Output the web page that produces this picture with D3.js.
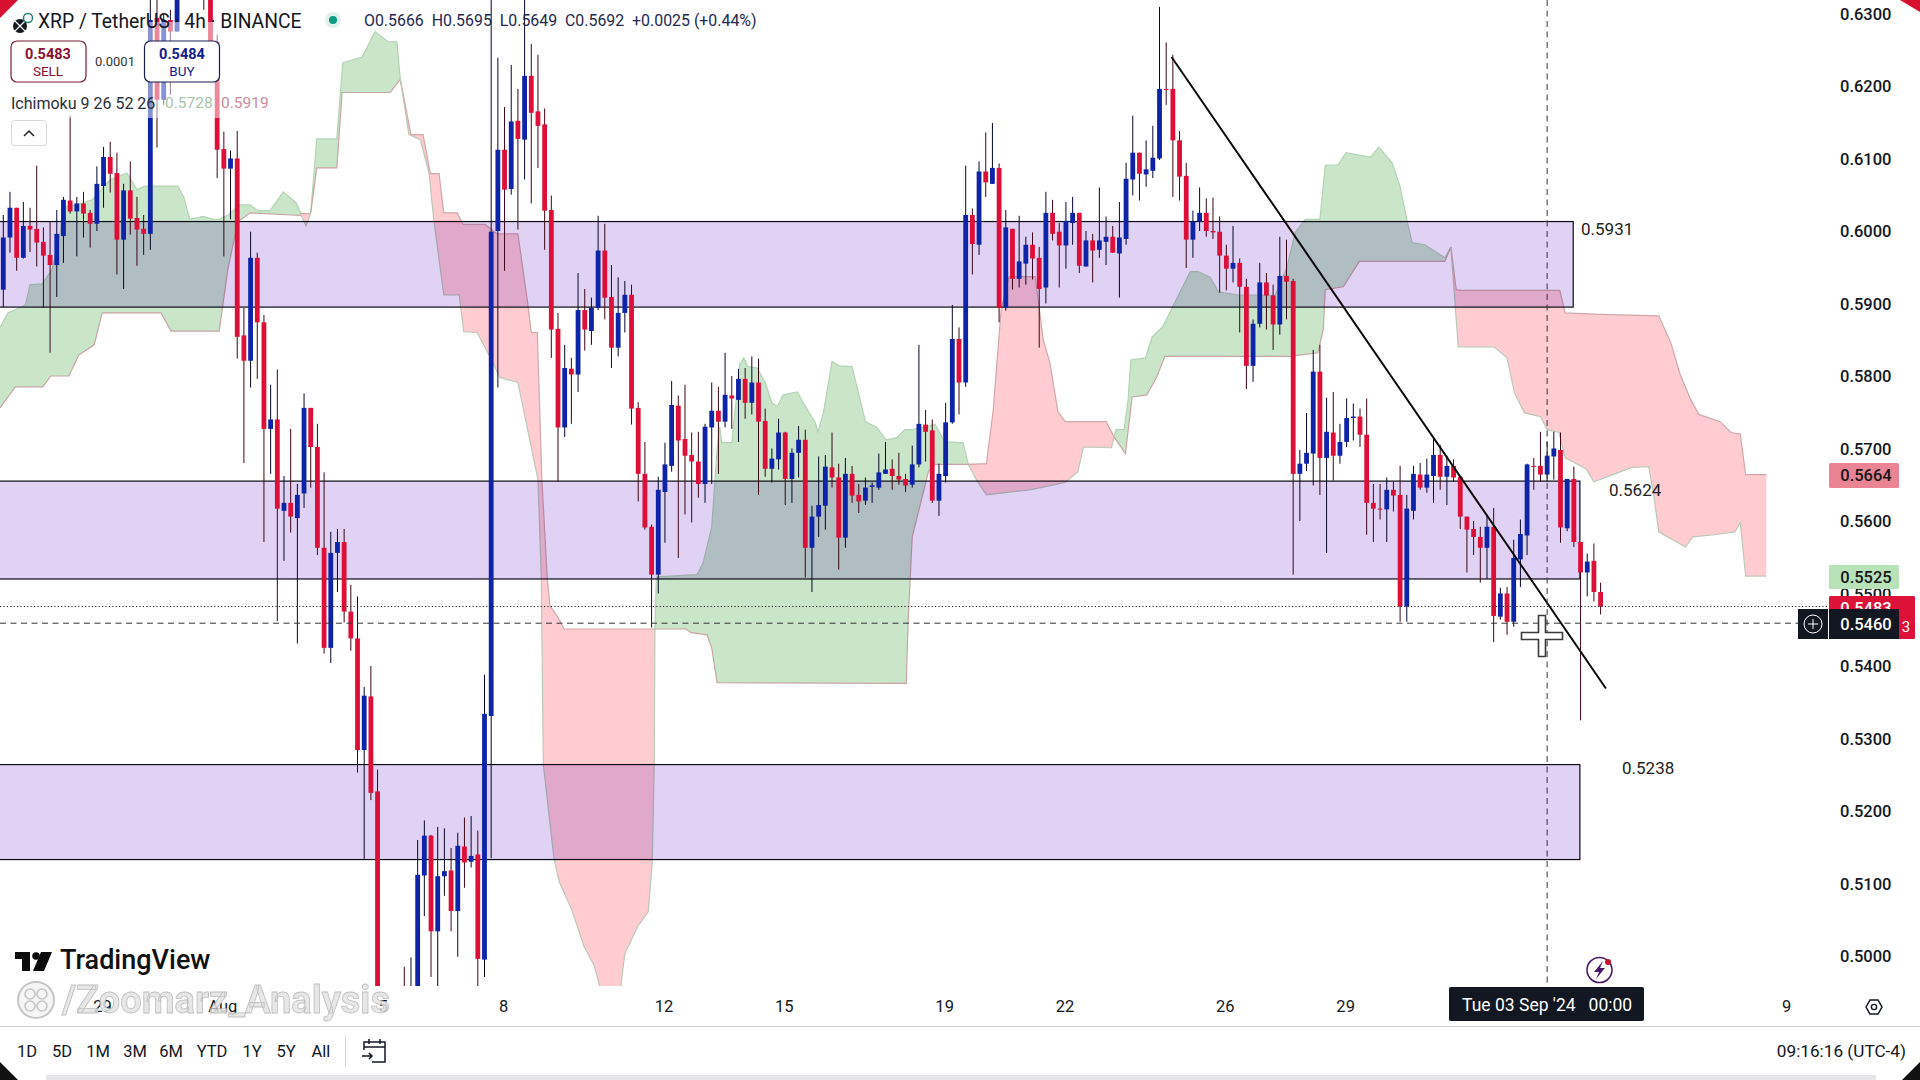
<!DOCTYPE html>
<html>
<head>
<meta charset="utf-8">
<title>XRP / TetherUS 4h</title>
<script src="https://d3js.org/d3.v7.min.js"></script>
<style>
html, body { margin: 0; padding: 0; background: #fff; }
svg { display: block; font-family: Roboto, sans-serif; isolation: isolate; }
.axis text { font-family: Roboto, sans-serif; fill: #131722; }
.axis path, .axis line { display: none; }
</style>
</head>
<body>
<svg id="chart" width="1920" height="1080"></svg>
<script>
// all prices below are in 1/10000 USDT
const candleOpen = [
  5920,5992,6033,5964,6008,6004,5986,5968,5954,5994, 6043,6028,6039,6026,6011,6063,6103,6081,5989,6057,
  6019,6004,5997,6295,6182,6292,6276,6348,6389,6370, 6400,6368,6262,6114,6087,6101,5857,5822,5964,5875,
  5728,5741,5615,5626,5605,5639,5757,5703,5564,5426, 5557,5572,5476,5439,5285,5359,5228,4886,4892,4870,
  4941,4927,4948,5112,5167,5035,5111,5119,5063,5152, 5131,5141,4996,5332,6001,6113,6059,6153,6127,6215,
  6166,6148,6030,5866,5730,5811,5803,5892,5863,5895, 5974,5910,5840,5888,5913,5757,5666,5593,5527,5641,
  5677,5760,5714,5692,5683,5652,5730,5753,5738,5774, 5768,5797,5764,5792,5739,5673,5686,5723,5659,5695,
  5713,5564,5607,5622,5675,5661,5578,5666,5637,5629, 5648,5647,5666,5673,5663,5659,5651,5679,5734,5726,
  5629,5663,5737,5852,5792,6023,5982,6083,6066,6088, 5895,6004,5935,5956,5982,5964,5923,6026,6000,5981,
  6012,6026,5952,5988,5975,5986,5993,5970,5990,6072, 6109,6079,6084,6101,6197,6197,6126,6077,5989,6014,
  6026,6001,6000,5967,5949,5957,5924,5815,5873,5930, 5912,5872,5939,5932,5666,5680,5694,5807,5688,5723,
  5691,5710,5743,5745,5720,5626,5618,5617,5644,5637, 5483,5615,5665,5647,5663,5692,5662,5677,5662,5607,
  5590,5579,5564,5593,5469,5501,5462,5548,5581,5677, 5677,5665,5690,5699,5591,5659,5572,5530,5546,5503
]
const candleHigh = [
  6023,6055,6033,6041,6033,6091,6006,6014,6030,6048, 6160,6048,6055,6030,6090,6117,6124,6109,6066,6097,
  6048,6023,6327,6327,6299,6306,6361,6403,6410,6420, 6425,6375,6272,6138,6112,6139,5895,6000,5971,5885,
  5789,5810,5663,5728,5652,5777,5757,5735,5668,5586, 5590,5590,5513,5497,5372,5401,5258,4895,4900,4905,
  4986,4999,5161,5188,5168,5179,5177,5150,5171,5192, 5194,5174,5389,6334,6240,6172,6230,6197,6327,6259,
  6244,6170,6050,5888,5844,5826,5943,5921,5909,6022, 6011,5954,5937,5932,5927,5765,5710,5596,5662,5709,
  5794,5774,5789,5723,5724,5735,5792,5786,5833,5801, 5811,5812,5828,5825,5756,5701,5742,5724,5701,5732,
  5727,5622,5690,5692,5723,5680,5688,5677,5652,5661, 5654,5694,5710,5686,5695,5666,5705,5844,5754,5741,
  5680,5764,5899,5868,6091,6032,6097,6137,6150,6094, 6030,6004,6022,5993,5999,5979,6055,6044,6012,6041,
  6048,6026,6001,5997,6061,6021,6008,6041,6095,6160, 6109,6126,6146,6310,6261,6244,6139,6095,6029,6061,
  6046,6047,6021,5982,6008,5963,5935,5879,5957,5943, 5927,5993,5989,5935,5699,5750,5837,5844,5771,5779,
  5735,5770,5763,5756,5770,5652,5652,5661,5655,5677, 5637,5677,5681,5687,5717,5706,5691,5686,5663,5607,
  5601,5593,5608,5619,5509,5510,5575,5603,5680,5688, 5724,5710,5724,5723,5659,5676,5572,5556,5570,5516
]
const candleLow = [
  5896,5971,5946,5963,5972,5952,5895,5833,5910,5957, 6025,5966,5992,5978,6001,6033,6054,5941,5921,5996,
  5953,5968,5975,6116,6175,6189,6276,6341,6340,6355, 6306,6245,6074,5966,6017,5825,5681,5785,5797,5572,
  5666,5463,5546,5585,5432,5619,5647,5554,5418,5405, 5503,5461,5422,5254,5135,5216,4859,4840,4850,4860,
  4886,4900,4927,5056,4972,4959,5084,5035,5000,5095, 5123,4959,4972,5136,5785,5946,6051,6003,6072,6039,
  6088,5975,5826,5655,5717,5735,5779,5836,5844,5892, 5879,5812,5828,5861,5734,5628,5589,5454,5501,5571,
  5669,5550,5610,5599,5633,5626,5652,5666,5730,5728, 5710,5742,5748,5637,5662,5654,5672,5623,5626,5661,
  5523,5503,5579,5589,5647,5534,5564,5626,5612,5623, 5626,5644,5666,5644,5651,5641,5647,5675,5683,5626,
  5608,5654,5735,5748,5786,5941,5968,6048,6066,5875, 5891,5920,5923,5927,5934,5840,5901,5988,5923,5949,
  5982,5943,5952,5930,5964,5954,5971,5909,5982,6050, 6043,6062,6074,6099,6175,6048,6043,5950,5964,6001,
  5993,5990,5916,5919,5930,5861,5783,5793,5868,5865, 5837,5858,5879,5527,5601,5670,5650,5637,5557,5657,
  5680,5703,5712,5703,5582,5572,5603,5572,5614,5462, 5462,5603,5644,5640,5626,5644,5623,5655,5590,5530,
  5554,5516,5521,5434,5465,5444,5455,5510,5554,5644, 5655,5655,5658,5571,5587,5565,5326,5497,5490,5472
]
const candleClose = [
  5992,6033,5964,6008,6003,5985,5967,5954,5997,6044, 6028,6039,6025,6011,6066,6103,6080,5989,6057,6018,
  6003,5997,6292,6182,6292,6276,6348,6389,6370,6400, 6360,6262,6113,6087,6101,5855,5822,5964,5875,5728,
  5741,5618,5626,5607,5637,5757,5703,5564,5426,5557, 5572,5476,5439,5285,5360,5226,4886,4892,4870,4900,
  4913,4955,5113,5167,5035,5111,5118,5063,5153,5130, 5139,4997,5335,6000,6113,6058,6152,6128,6215,6164,
  6146,6029,5865,5730,5812,5803,5892,5865,5895,5974, 5909,5840,5888,5913,5756,5666,5592,5527,5644,5679,
  5761,5712,5691,5683,5652,5731,5753,5738,5775,5770, 5797,5764,5792,5738,5673,5687,5723,5659,5695,5713,
  5564,5607,5623,5676,5661,5578,5666,5636,5628,5647, 5650,5668,5672,5663,5658,5650,5679,5735,5724,5629,
  5666,5737,5852,5792,6023,5983,6083,6068,6088,5895, 6006,5935,5959,5982,5963,5921,6026,5997,5981,6015,
  6026,5953,5988,5974,5988,5993,5971,5992,6073,6109, 6080,6086,6102,6197,6196,6126,6076,5989,6014,6026,
  6001,5999,5967,5949,5957,5924,5815,5873,5930,5912, 5872,5939,5931,5666,5680,5695,5807,5688,5724,5691,
  5710,5743,5745,5720,5626,5618,5617,5644,5636,5483, 5618,5666,5647,5665,5692,5662,5677,5661,5607,5589,
  5579,5564,5593,5470,5501,5462,5550,5583,5679,5676, 5665,5691,5701,5592,5659,5572,5530,5545,5503,5483
]

// ichimoku cloud edges, [bar, price]
const green1Upper = [[-0.5,5868],[0.7,5888],[3.3,5899],[4,5927],[5.8,5928],[7.3,5948],[8.5,5996],[8.9,6034],[11,6037],[13.3,6044],[16,6072],[18.5,6081],[20,6058],[21.2,6063],[26.1,6063],[27,6048],[27.9,6017],[29.9,6021],[31.4,6017],[32.4,6017],[33.6,6023],[35.4,6037],[36.9,6037],[38.1,6029],[39.9,6029],[41.9,6055],[43.8,6040],[44.5,6026],[45.3,6022]]
const green1Lower = [[-0.5,5757],[1.8,5786],[5.9,5786],[7.1,5801],[9.8,5801],[11.3,5830],[13.6,5844],[14.8,5888],[23.6,5888],[25.1,5863],[32.3,5863],[33.6,5948],[35.1,6014],[36.2,6021],[36.9,6026],[45.3,6022]]
const pink0Upper = [[44.4,6025],[46,6025]]
const pink0Lower = [[44.4,6025],[45.3,6008],[46,6025]]
const green2Upper = [[46,6026],[46.9,6128],[49.9,6128],[50.8,6233],[53.7,6241],[55.6,6276],[57.6,6262],[58.9,6262],[59.4,6210]]
const green2Lower = [[46,6026],[46.9,6088],[49.9,6088],[50.7,6192],[57.9,6192],[59.4,6210]]
const pink1Upper = [[59.4,6210],[61,6134],[62.8,6134],[63.9,6080],[65.2,6080],[65.9,6026],[67.9,6026],[68.8,6010],[72.1,6010],[73.9,5997],[77,5997],[78.5,5899],[79,5861],[79.9,5861],[80.6,5655],[81.4,5521],[81.8,5484],[83,5468],[83.9,5452],[97.5,5452]]
const pink1Lower = [[59.4,6210],[60.7,6134],[62.4,6127],[63.7,6081],[64.4,6017],[65.9,5913],[68.2,5913],[68.9,5862],[70.9,5861],[72.8,5828],[74.3,5799],[77,5792],[80,5658],[80.5,5521],[80.8,5265],[82.4,5135],[83.2,5103],[85,5066],[86.9,5014],[88.4,4988],[90.6,4913],[92.4,4960],[93,5004],[95,5043],[96.5,5062],[97.1,5130],[97.4,5265],[97.5,5452]]
const green3Upper = [[97.5,5452],[97.7,5521],[97.8,5524],[103.8,5527],[104.7,5543],[106,5593],[106.8,5699],[107.2,5731],[107.5,5709],[109,5709],[109.5,5754],[110.2,5817],[110.8,5826],[111.4,5814],[112.8,5812],[114,5792],[115,5764],[115.8,5759],[116.7,5775],[118.8,5779],[119.7,5764],[121.5,5737],[121.9,5724],[122.7,5750],[124,5821],[125.1,5815],[127,5814],[129,5738],[130.7,5730],[132.1,5713],[133.7,5716],[134.9,5727],[136.1,5727],[139.4,5734],[140.9,5710],[143.6,5709],[144.4,5679]]
const green3Lower = [[97.5,5452],[102.2,5452],[102.9,5447],[105.3,5444],[106,5426],[106.8,5378],[135.1,5377],[135.4,5465],[136,5579],[138.4,5668],[139.1,5679],[144.4,5679]]
const pink2Upper = [[144.4,5679],[147.1,5680],[148.1,5752],[149.3,5892],[150.5,5938],[154.4,5938],[155.6,5851],[156.6,5819],[157.8,5752],[158.9,5738],[165,5738],[166.2,5717]]
const pink2Lower = [[144.4,5679],[145.6,5658],[147.1,5637],[153.6,5644],[158.9,5654],[160.8,5669],[161.6,5703],[165.8,5702],[166.2,5717]]
const green4Upper = [[166.2,5717],[166.5,5727],[167.7,5727],[168.3,5768],[168.7,5823],[170.9,5826],[171.9,5855],[173.5,5869],[175,5897],[177.6,5945],[178.8,5945],[180.6,5937],[181.8,5917],[184.6,5913],[190.3,5912],[192.1,5952],[193.3,5999],[194.8,6017],[197,6017],[197.8,6092],[199.7,6092],[200.9,6109],[204.6,6103],[205.8,6117],[207.8,6095],[209,6062],[210,6017],[210.8,5985],[212.7,5982],[215.7,5964],[216.6,5979]]
const green4Lower = [[166.2,5717],[167.9,5694],[168.9,5772],[171.1,5775],[172.6,5800],[173.8,5828],[192.5,5828],[196.7,5833],[197.5,5865],[197.8,5920],[200.5,5924],[202.9,5959],[215.7,5959],[216.6,5979]]
const pink3Upper = [[216.6,5979],[217.4,5920],[218.1,5919],[232.9,5919],[233.7,5888],[238.9,5886],[247.7,5884],[249.5,5847],[250.9,5803],[252.5,5768],[253.7,5748],[256.9,5738],[258.5,5723],[259.9,5721],[260.7,5665],[263.8,5665]]
const pink3Lower = [[216.6,5979],[217.7,5841],[223.1,5841],[225,5826],[226.1,5778],[227.6,5750],[230,5745],[231,5727],[232.8,5723],[233.7,5688],[236.8,5673],[238,5655],[243.7,5675],[246.2,5676],[246.9,5640],[247.7,5586],[251.7,5565],[252.8,5579],[256,5582],[259.1,5586],[259.9,5599],[260.7,5525],[263.8,5525]]

// purple zones: top price, bottom price, last bar
const zoneTop = [6014, 5656, 5265]
const zoneBottom = [5896, 5521, 5134]
const zoneEnd = [234.9, 235.9, 235.9]
const zoneLabels = ["0.5931", "0.5624", "0.5238"]

const trendBars = [174.8, 239.8]
const trendPrices = [6241, 5370]

const priceTicks = [0.63,0.62,0.61,0.60,0.59,0.58,0.57,0.56,0.55,0.54,0.53,0.52,0.51,0.50]
const dateTickBars = [15, 33, 57, 75, 99, 117, 141, 159, 183, 201, 267]
const dateTickLabels = ["29", "Aug", "5", "8", "12", "15", "19", "22", "26", "29", "9"]
const rangeButtons = ["1D", "5D", "1M", "3M", "6M", "YTD", "1Y", "5Y", "All"]
const rangeCenters = [27, 62, 98, 135, 171, 212, 252, 286, 321]

const lastPrice = 0.5483
const crossPrice = 0.5460
const crossBar = 231

const RED = "#dd0f38", BLUE = "#0d24a8"

const svg = d3.select("#chart")
svg.append("rect").attr("width", 1920).attr("height", 1080).attr("fill", "#fff")

const x = d3.scaleLinear().domain([0, 239]).range([3.3, 1600.6])
const y = d3.scaleLinear().domain([0.5, 0.63]).range([956.7, 14.2])
const py = v => y(v / 10000)

svg.append("clipPath").attr("id", "pane").append("rect")
    .attr("x", 0).attr("y", 0).attr("width", 1829).attr("height", 986)

const pane = svg.append("g").attr("clip-path", "url(#pane)")

// cloud
const edge = d3.line().x(d => x(d[0])).y(d => py(d[1]))
const cloudSegments = [
    [green1Upper, green1Lower, "g"], [pink0Upper, pink0Lower, "p"], [green2Upper, green2Lower, "g"],
    [pink1Upper, pink1Lower, "p"], [green3Upper, green3Lower, "g"], [pink2Upper, pink2Lower, "p"],
    [green4Upper, green4Lower, "g"], [pink3Upper, pink3Lower, "p"]
]
cloudSegments.forEach(function(seg) {
    const isGreen = seg[2] == "g"
    pane.append("path")
        .attr("d", edge(seg[0].concat(seg[1].slice().reverse())) + "Z")
        .attr("fill", isGreen ? "#c9e6ca" : "#ffccd2")
    pane.append("path").attr("d", edge(seg[0])).attr("fill", "none")
        .attr("stroke", isGreen ? "#b4d3b5" : "#d3a6aa").attr("stroke-width", 1.2)
    pane.append("path").attr("d", edge(seg[1])).attr("fill", "none")
        .attr("stroke", isGreen ? "#c9a5a5" : "#bcc9b8").attr("stroke-width", 1.2)
})

// zones
zoneTop.forEach(function(top, i) {
    pane.append("rect")
        .attr("x", -2).attr("y", py(top))
        .attr("width", x(zoneEnd[i]) + 2).attr("height", py(zoneBottom[i]) - py(top))
        .attr("fill", "#e0d2f4").style("mix-blend-mode", "multiply")
    pane.append("rect")
        .attr("x", -2).attr("y", py(top))
        .attr("width", x(zoneEnd[i]) + 2).attr("height", py(zoneBottom[i]) - py(top))
        .attr("fill", "none").attr("stroke", "#0c0c14").attr("stroke-width", 1.2)
})

// candles
const candles = candleOpen.map((o, i) => ({ i: i, o: o, h: candleHigh[i], l: candleLow[i], c: candleClose[i] }))
const candleG = pane.append("g")
candleG.selectAll("line").data(candles).join("line")
    .attr("x1", d => x(d.i)).attr("x2", d => x(d.i))
    .attr("y1", d => py(d.h)).attr("y2", d => py(d.l))
    .attr("stroke", d => d.c >= d.o ? "#06082a" : "#3c0716").attr("stroke-width", 1)
candleG.selectAll("rect").data(candles).join("rect")
    .attr("x", d => x(d.i) - 2.4).attr("width", 4.8)
    .attr("y", d => py(Math.max(d.o, d.c)))
    .attr("height", d => Math.max(1, Math.abs(py(d.o) - py(d.c))))
    .attr("fill", d => d.c >= d.o ? BLUE : RED)

// trend line
pane.append("line")
    .attr("x1", x(trendBars[0])).attr("y1", py(trendPrices[0]))
    .attr("x2", x(trendBars[1])).attr("y2", py(trendPrices[1]))
    .attr("stroke", "#0a0a0a").attr("stroke-width", 2)

// last price and crosshair lines
svg.append("line").attr("x1", 0).attr("x2", 1829).attr("y1", y(lastPrice)).attr("y2", y(lastPrice))
    .attr("stroke", "#222").attr("stroke-dasharray", "1.2 2.2")
svg.append("line").attr("x1", 0).attr("x2", 1798).attr("y1", y(crossPrice)).attr("y2", y(crossPrice))
    .attr("stroke", "#333").attr("stroke-dasharray", "6 4.5")
svg.append("line").attr("x1", x(crossBar)).attr("x2", x(crossBar)).attr("y1", 0).attr("y2", 986)
    .attr("stroke", "#333").attr("stroke-dasharray", "6 4.5")

// zone value labels
const zoneLabelX = [1581, 1609, 1622]
const zoneLabelY = [229, 490, 768]
svg.selectAll("text.zone").data(zoneLabels).join("text").attr("class", "zone")
    .attr("x", (d, i) => zoneLabelX[i]).attr("y", (d, i) => zoneLabelY[i]).attr("dy", "0.35em")
    .attr("font-size", 17).attr("fill", "#222").text(d => d)

// price axis
const yAxis = d3.axisRight(y).tickValues(priceTicks).tickFormat(d3.format(".4f")).tickSize(0).tickPadding(0)
svg.append("g").attr("class", "axis").attr("transform", "translate(1840,0)").call(yAxis)
    .selectAll("text").attr("font-size", 16.5).attr("font-weight", 500)

// price badges
function badge(top, h, w, fill, text, color) {
    svg.append("rect").attr("x", 1829).attr("y", top).attr("width", w).attr("height", h).attr("fill", fill).attr("rx", 1.5)
    svg.append("text").attr("x", 1866).attr("y", top + h / 2).attr("dy", "0.35em")
        .attr("text-anchor", "middle").attr("font-size", 16.5).attr("font-weight", 500).attr("fill", color).text(text)
}
badge(463, 25, 70, "#ea8494", "0.5664", "#161616")
badge(565, 24, 70, "#b8e2b8", "0.5525", "#161616")
svg.append("rect").attr("x", 1829).attr("y", 596).attr("width", 86).attr("height", 43).attr("fill", "#dd1238").attr("rx", 1.5)
svg.append("text").attr("x", 1866).attr("y", 608).attr("dy", "0.35em").attr("text-anchor", "middle")
    .attr("font-size", 16.5).attr("font-weight", 500).attr("fill", "#fff").text("0.5483")
svg.append("text").attr("x", 1906).attr("y", 627).attr("dy", "0.35em").attr("text-anchor", "middle")
    .attr("font-size", 15).attr("fill", "#fff").text("3")
svg.append("rect").attr("x", 1798).attr("y", 609).attr("width", 30).attr("height", 30).attr("fill", "#131722")
svg.append("rect").attr("x", 1829).attr("y", 609).attr("width", 70).attr("height", 30).attr("fill", "#131722")
svg.append("text").attr("x", 1866).attr("y", 624).attr("dy", "0.35em").attr("text-anchor", "middle")
    .attr("font-size", 16.5).attr("font-weight", 500).attr("fill", "#fff").text("0.5460")
svg.append("circle").attr("cx", 1813).attr("cy", 624).attr("r", 9).attr("fill", "none").attr("stroke", "#fff")
svg.append("path").attr("d", "M1808 624H1818M1813 619V629").attr("stroke", "#fff").attr("fill", "none")

// time axis
const xAxis = d3.axisBottom(x).tickValues(dateTickBars)
    .tickFormat((d, i) => dateTickLabels[i]).tickSize(0).tickPadding(0)
svg.append("g").attr("class", "axis").attr("transform", "translate(-1.5,1000)").call(xAxis)
    .selectAll("text").attr("font-size", 16.5)

svg.append("rect").attr("x", 1449).attr("y", 987).attr("width", 195).attr("height", 34).attr("rx", 2).attr("fill", "#131722")
svg.append("text").attr("x", x(crossBar)).attr("y", 1005).attr("dy", "0.35em").attr("text-anchor", "middle")
    .attr("font-size", 17.5).attr("fill", "#fff").attr("xml:space", "preserve").text("Tue 03 Sep '24   00:00")

// legend veil and header
svg.append("rect").attr("x", 5).attr("y", 22).attr("width", 280).attr("height", 96).attr("fill", "#fff").attr("opacity", 0.5)
svg.append("text").attr("x", 38).attr("y", 21).attr("dy", "0.35em").attr("font-size", 19.3).attr("fill", "#131722")
    .text("XRP / TetherUS · 4h · BINANCE")
svg.append("circle").attr("cx", 333).attr("cy", 20).attr("r", 8).attr("fill", "#dff2ec")
svg.append("circle").attr("cx", 333).attr("cy", 20).attr("r", 4).attr("fill", "#089981")
svg.append("text").attr("x", 364).attr("y", 20).attr("dy", "0.35em").attr("font-size", 15.9).attr("fill", "#23294f")
    .attr("xml:space", "preserve").text("O0.5666  H0.5695  L0.5649  C0.5692  +0.0025 (+0.44%)")

// xrp coin
svg.append("circle").attr("cx", 20).attr("cy", 26).attr("r", 7).attr("fill", "#16181f")
svg.append("path").attr("d", "M15 21 L25 31 M25 21 L15 31").attr("stroke", "#fff").attr("stroke-width", 1.2)
svg.append("circle").attr("cx", 28).attr("cy", 18).attr("r", 4.5).attr("fill", "#fff").attr("stroke", "#1a7f72").attr("stroke-width", 1.4)

// sell / buy boxes
svg.append("rect").attr("x", 11).attr("y", 41).attr("width", 75).attr("height", 41).attr("rx", 6)
    .attr("fill", "#fff").attr("stroke", "#7a1c34").attr("stroke-width", 1.2)
svg.append("rect").attr("x", 144.5).attr("y", 41).attr("width", 75).attr("height", 41).attr("rx", 6)
    .attr("fill", "#fff").attr("stroke", "#1a2150").attr("stroke-width", 1.2)
const boxText = [
    [48, 54, "0.5483", "#8b0f2e", 14.5, 700], [48, 71, "SELL", "#8b0f2e", 13.5, 400],
    [115, 61, "0.0001", "#333", 13, 400],
    [182, 54, "0.5484", "#14208c", 14.5, 700], [182, 71, "BUY", "#14208c", 13.5, 400]
]
svg.selectAll("text.box").data(boxText).join("text").attr("class", "box")
    .attr("x", d => d[0]).attr("y", d => d[1]).attr("dy", "0.35em").attr("text-anchor", "middle")
    .attr("fill", d => d[3]).attr("font-size", d => d[4]).attr("font-weight", d => d[5]).text(d => d[2])

svg.append("text").attr("x", 11).attr("y", 103).attr("dy", "0.35em").attr("font-size", 16).attr("fill", "#2a2e39").text("Ichimoku 9 26 52 26")
svg.append("text").attr("x", 165).attr("y", 103).attr("dy", "0.35em").attr("font-size", 15.5).attr("fill", "#a8c6aa").text("0.5728")
svg.append("text").attr("x", 221).attr("y", 103).attr("dy", "0.35em").attr("font-size", 15.5).attr("fill", "#c98c9e").text("0.5919")
svg.append("rect").attr("x", 11.5).attr("y", 120.5).attr("width", 35).attr("height", 25).attr("rx", 3)
    .attr("fill", "#fff").attr("stroke", "#d8d8d8")
svg.append("path").attr("d", "M24 136 L29 131 L34 136").attr("fill", "none").attr("stroke", "#222").attr("stroke-width", 1.5)

// mouse cross
svg.append("path")
    .attr("d", "M1538.5 615.5h7v17h17v7h-17v17h-7v-17h-17v-7h17z")
    .attr("fill", "#fff").attr("stroke", "#3a3a3a").attr("stroke-width", 1.6)

// lightning badge
svg.append("circle").attr("cx", 1599.5).attr("cy", 970).attr("r", 12.5).attr("fill", "#fff").attr("stroke", "#4a1a6b").attr("stroke-width", 1.6)
svg.append("path").attr("d", "M1603 961 L1594 972 H1599 L1596 979 L1605 968 H1600 Z").attr("fill", "#4a1a6b")
svg.append("circle").attr("cx", 1608).attr("cy", 962).attr("r", 3).attr("fill", "#c2102f")

// settings hexagon
svg.append("path").attr("d", "M1866 1007 L1870 1000 H1878 L1882 1007 L1878 1014 H1870 Z").attr("fill", "none").attr("stroke", "#131722").attr("stroke-width", 1.5)
svg.append("circle").attr("cx", 1874).attr("cy", 1007).attr("r", 2.6).attr("fill", "none").attr("stroke", "#131722").attr("stroke-width", 1.4)

// logo + watermark
svg.append("path").attr("d", "M15 952H30V971H22V959H15Z M47 952H52L44 971H33L41 952Z").attr("fill", "#0b0b0b")
svg.append("circle").attr("cx", 36).attr("cy", 956).attr("r", 3.8).attr("fill", "#0b0b0b")
svg.append("text").attr("x", 60).attr("y", 960).attr("dy", "0.35em").attr("font-size", 27).attr("font-weight", 500).attr("fill", "#111").text("TradingView")

const mark = svg.append("g").attr("opacity", 0.85)
mark.append("circle").attr("cx", 36).attr("cy", 1000).attr("r", 18).attr("fill", "#f4f4f4").attr("stroke", "#bcbcbc").attr("stroke-width", 2)
d3.range(4).forEach(function(k) {
    mark.append("circle").attr("cx", 36 + (k % 2 ? 6 : -6)).attr("cy", 1000 + (k < 2 ? -6 : 6)).attr("r", 5)
        .attr("fill", "none").attr("stroke", "#bcbcbc").attr("stroke-width", 1.6)
})
mark.append("text").attr("x", 62).attr("y", 1000).attr("dy", "0.35em").attr("font-size", 38).attr("font-weight", 700)
    .attr("fill", "#e3e3e3").attr("stroke", "#b4b4b4").attr("stroke-width", 0.8).text("/Zoomarz_Analysis")

// bottom toolbar
svg.append("line").attr("x1", 0).attr("x2", 1920).attr("y1", 1026.5).attr("y2", 1026.5).attr("stroke", "#d6d6d6").attr("stroke-width", 1.2)
svg.selectAll("text.range").data(rangeButtons).join("text").attr("class", "range")
    .attr("x", (d, i) => rangeCenters[i]).attr("y", 1051).attr("dy", "0.35em").attr("text-anchor", "middle")
    .attr("font-size", 16.5).attr("fill", "#131722").text(d => d)
svg.append("line").attr("x1", 345.5).attr("x2", 345.5).attr("y1", 1036).attr("y2", 1067).attr("stroke", "#d6d6d6")
svg.append("path").attr("d", "M364 1050V1042H385V1062H372 M364 1047H385 M369 1039V1044 M380 1039V1044 M362 1056H372 M369 1053L372 1056L369 1059")
    .attr("fill", "none").attr("stroke", "#131722").attr("stroke-width", 1.5)
svg.append("text").attr("x", 1906).attr("y", 1051).attr("dy", "0.35em").attr("text-anchor", "end")
    .attr("font-size", 17.2).attr("fill", "#131722").text("09:16:16 (UTC-4)")
svg.append("rect").attr("x", 46).attr("y", 1075).attr("width", 1830).attr("height", 5).attr("fill", "#e6e6e9")

// video corners
svg.append("path").attr("d", "M0 0H18L0 18Z").attr("fill", "#d81030")
svg.append("path").attr("d", "M1900 0H1920V12Z").attr("fill", "#d81030")
svg.append("path").attr("d", "M0 1062L18 1080H0Z").attr("fill", "#111")
svg.append("path").attr("d", "M1920 1062V1080H1902Z").attr("fill", "#111")
</script>
</body>
</html>
